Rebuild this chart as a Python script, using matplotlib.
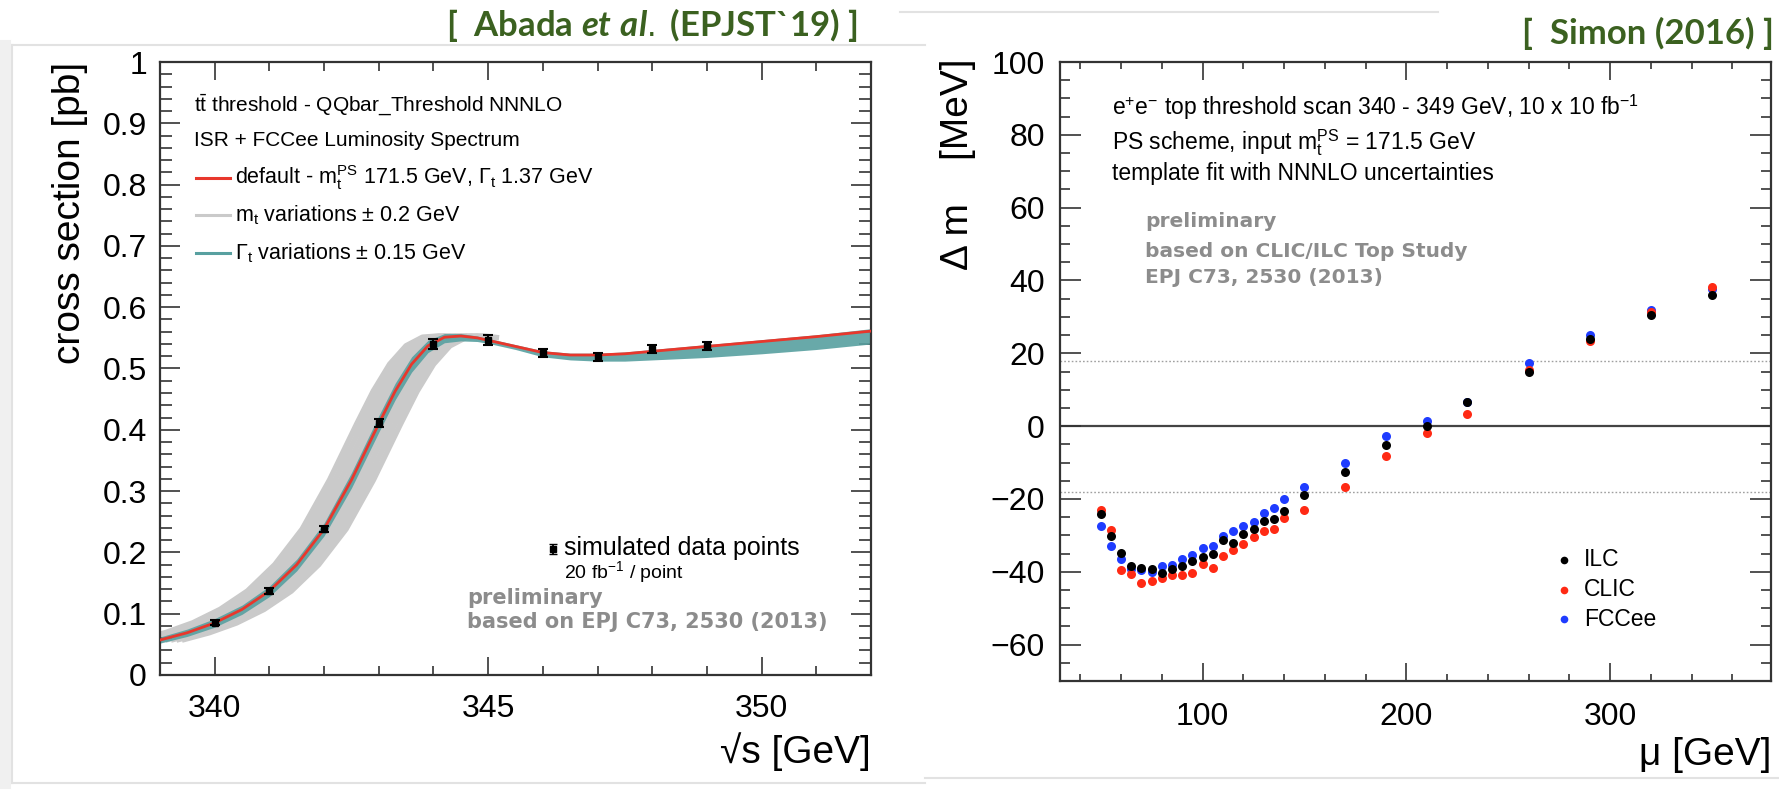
import matplotlib
matplotlib.use("Agg")
import matplotlib.pyplot as plt
from matplotlib.lines import Line2D
from matplotlib.ticker import MultipleLocator, FuncFormatter

W, H = 1779, 806
plt.rcParams["font.family"] = ["Liberation Sans", "DejaVu Sans"]
plt.rcParams["mathtext.fontset"] = "custom"
plt.rcParams["mathtext.rm"] = "Liberation Sans"
plt.rcParams["mathtext.it"] = "Lato:italic:bold"
plt.rcParams["mathtext.bf"] = "Liberation Sans:bold"

# ---- left panel: ttbar threshold scan ----
sqrt_s = [339.0, 339.5, 340.0, 340.5, 341.0, 341.5, 342.0, 342.5, 343.0, 343.3, 343.6,
          343.9, 344.2, 344.5, 344.8, 345.0, 345.5, 346.0, 346.5, 347.0, 347.5, 348.0,
          348.5, 349.0, 349.5, 350.0, 351.0, 352.0]
xsec = [0.057, 0.069, 0.085, 0.107, 0.137, 0.180, 0.238, 0.318, 0.410, 0.463, 0.507,
        0.537, 0.551, 0.553, 0.550, 0.546, 0.536, 0.526, 0.522, 0.522, 0.524, 0.528,
        0.532, 0.536, 0.540, 0.544, 0.552, 0.561]
gam_hi = [0.062, 0.075, 0.092, 0.114, 0.145, 0.189, 0.248, 0.330, 0.423, 0.476, 0.519,
          0.546, 0.557, 0.557, 0.553, 0.549, 0.539, 0.529, 0.525, 0.525, 0.527, 0.531,
          0.535, 0.539, 0.543, 0.547, 0.555, 0.565]
gam_lo = [0.052, 0.063, 0.078, 0.099, 0.128, 0.170, 0.227, 0.305, 0.396, 0.449, 0.494,
          0.526, 0.542, 0.545, 0.544, 0.541, 0.531, 0.519, 0.514, 0.512, 0.512, 0.514,
          0.516, 0.518, 0.521, 0.524, 0.531, 0.540]
mt_shift = [-0.4, -0.3, -0.2, -0.1, 0.0, 0.1, 0.2, 0.3, 0.4]
mt_upto = 15          # grey m_t band only shows up to the peak region
pts_x = [340, 341, 342, 343, 344, 345, 346, 347, 348, 349]
pts_y = [0.085, 0.137, 0.238, 0.411, 0.540, 0.546, 0.525, 0.519, 0.532, 0.537]
pts_e = [0.004, 0.005, 0.005, 0.007, 0.008, 0.008, 0.007, 0.007, 0.007, 0.007]

# ---- right panel: mass shift vs scale ----
mu = [50, 55, 60, 65, 70, 75, 80, 85, 90, 95, 100, 105, 110, 115, 120, 125, 130, 135,
      140, 150, 170, 190, 210, 230, 260, 290, 320, 350]
ilc = [-24.1, -30.3, -34.9, -38.3, -38.9, -39.2, -40.3, -39.2, -38.5, -37.1, -36.0, -35.0,
       -31.4, -32.0, -29.6, -28.3, -26.1, -25.4, -23.3, -18.8, -12.6, -5.3, 0.0, 6.6,
       14.8, 24.0, 30.4, 36.1]
clic = [-23.0, -28.6, -39.4, -40.5, -43.0, -42.4, -41.6, -41.0, -40.9, -40.3, -37.8, -38.9,
        -35.8, -34.1, -32.3, -30.5, -28.8, -28.2, -25.3, -23.1, -16.6, -8.3, -1.8, 3.4,
        15.5, 23.3, 31.3, 38.3]
fcc = [-27.3, -32.8, -36.4, -39.2, -39.6, -40.1, -38.3, -38.1, -36.6, -35.3, -33.4, -33.0,
       -30.2, -28.8, -27.5, -26.2, -23.9, -22.5, -19.9, -16.7, -10.2, -2.8, 1.4, 6.5,
       17.4, 24.9, 31.9, 37.7]
band = 18.0

RED, TEAL, GREY = "#e8372c", "#58a0a0", "#cacaca"
PREL = "#8c8c8c"
CITE = "#3b6120"

fig = plt.figure(figsize=(W / 100, H / 100), dpi=100)


def fx(x):
    return x / W


def fy(y):
    return 1 - y / H


def root_ticks(ax, xl, xmin, yl, ymin):
    for s in ax.spines.values():
        s.set_linewidth(1.6)
        s.set_color("#333333")
    ax.tick_params(which="both", direction="in", top=True, right=True, width=1.2,
                   color="#333333")
    ax.tick_params(axis="x", which="major", length=xl)
    ax.tick_params(axis="x", which="minor", length=xmin)
    ax.tick_params(axis="y", which="major", length=yl)
    ax.tick_params(axis="y", which="minor", length=ymin)


# ================= left =================
axl = fig.add_axes([fx(160), fy(675), (871 - 160) / W, (675 - 62) / H])
for d in mt_shift:
    axl.plot([v + d for v in sqrt_s[:mt_upto]], xsec[:mt_upto], color=GREY, lw=4,
             solid_capstyle="butt", zorder=1)
axl.fill_between(sqrt_s, gam_lo, gam_hi, color=TEAL, lw=0, alpha=0.9, zorder=2)
axl.plot(sqrt_s, xsec, color=RED, lw=2.0, zorder=3)
axl.errorbar(pts_x, pts_y, yerr=pts_e, fmt="s", color="black", ms=5, capsize=3.5,
             elinewidth=1.5, capthick=1.5, zorder=4)
axl.set_xlim(339, 352)
axl.set_ylim(0, 1)
axl.xaxis.set_major_locator(MultipleLocator(5))
axl.xaxis.set_minor_locator(MultipleLocator(1))
axl.yaxis.set_major_locator(MultipleLocator(0.1))
axl.yaxis.set_minor_locator(MultipleLocator(0.02))
axl.yaxis.set_major_formatter(FuncFormatter(lambda v, p: f"{v:.1f}".rstrip("0").rstrip(".") if v else "0"))
root_ticks(axl, 13, 6.5, 14.4, 8.6)
axl.tick_params(axis="x", labelsize=23, pad=14)
axl.tick_params(axis="y", labelsize=23, pad=9.4)

tl = axl.transAxes
axl.text(0.048, (675 - 105) / 613, r"t$\bar{\mathrm{t}}$ threshold - QQbar_Threshold NNNLO",
         transform=tl, fontsize=15, va="center")
axl.text(0.048, (675 - 141) / 613, "ISR + FCCee Luminosity Spectrum",
         transform=tl, fontsize=15, va="center")
leg_rows = [(178, RED, r"default - m$_\mathrm{t}^\mathrm{PS}$ 171.5 GeV, $\Gamma_\mathrm{t}$ 1.37 GeV"),
            (215, GREY, r"m$_\mathrm{t}$ variations ± 0.2 GeV"),
            (253, TEAL, r"$\Gamma_\mathrm{t}$ variations ± 0.15 GeV")]
for yy, c, s in leg_rows:
    ya = (675 - yy) / 613
    axl.plot([0.051, 0.098], [ya, ya], color=c, lw=2.2, transform=tl)
    axl.text(0.106, ya, s, transform=tl, fontsize=15.5, va="center")

axl.errorbar([0.553], [(675 - 549) / 613], yerr=[0.008], fmt="s", color="black", ms=4,
             capsize=3, elinewidth=1.3, transform=tl)
axl.text(0.568, (675 - 548) / 613, "simulated data points", transform=tl, fontsize=18,
         va="center")
axl.text(0.568, (675 - 572) / 613, r"20 fb$^{-1}$ / point", transform=tl, fontsize=14,
         va="center")
axl.text(0.432, (675 - 598) / 613, "preliminary", transform=tl, fontsize=15,
         color=PREL, fontweight="bold", family="DejaVu Sans", va="center")
axl.text(0.432, (675 - 622) / 613, "based on EPJ C73, 2530 (2013)", transform=tl,
         fontsize=15, color=PREL, fontweight="bold", family="DejaVu Sans", va="center")
axl.text(-0.127, 1.0, "cross section [pb]", transform=tl, rotation=90, fontsize=28,
         ha="center", va="top")
axl.text(1.0, (675 - 752) / 613, "√s [GeV]", transform=tl, fontsize=28, ha="right",
         va="center")

# ================= right =================
axr = fig.add_axes([fx(1060), fy(681), (1771 - 1060) / W, (681 - 62) / H])
axr.axhline(0, color="#444444", lw=1.6, zorder=1)
axr.axhline(band, color="#a0a0a0", lw=1.0, ls=(0, (1.2, 1.5)), zorder=1)
axr.axhline(-band, color="#a0a0a0", lw=1.0, ls=(0, (1.2, 1.5)), zorder=1)
axr.plot(mu, fcc, "o", color="#1f3cff", ms=6.5, mew=0, zorder=3)
axr.plot(mu, clic, "o", color="#ff2a14", ms=6.5, mew=0, zorder=4)
axr.plot(mu, ilc, "o", color="black", ms=6.5, mew=0, zorder=5)
axr.set_xlim(30, 379)
axr.set_ylim(-70, 100)
axr.xaxis.set_major_locator(MultipleLocator(100))
axr.xaxis.set_minor_locator(MultipleLocator(20))
axr.yaxis.set_major_locator(MultipleLocator(20))
axr.yaxis.set_minor_locator(MultipleLocator(5))
root_ticks(axr, 13, 5, 15, 7)
axr.tick_params(axis="x", labelsize=23, pad=15)
axr.tick_params(axis="y", labelsize=23, pad=11)

tr = axr.transAxes
for yy, s in [(115, r"e$^{+}$e$^{-}$ top threshold scan 340 - 349 GeV, 10 x 10 fb$^{-1}$"),
              (150, r"PS scheme, input m$_\mathrm{t}^\mathrm{PS}$ = 171.5 GeV"),
              (180, "template fit with NNNLO uncertainties")]:
    axr.text(0.073, (681 - yy) / 619, s, transform=tr, fontsize=16.5, va="baseline")
for yy, s in [(227, "preliminary"), (257, "based on CLIC/ILC Top Study"),
              (283, "EPJ C73, 2530 (2013)")]:
    axr.text(0.120, (681 - yy) / 619, s, transform=tr, fontsize=14.5, color=PREL,
             fontweight="bold", family="DejaVu Sans", va="baseline")
for yy, c, s in [(560, "black", "ILC"), (590, "#ff2a14", "CLIC"), (619, "#1f3cff", "FCCee")]:
    ya = (681 - yy) / 619
    axr.plot([0.709], [ya], "o", color=c, ms=5.5, mew=0, transform=tr)
    axr.text(0.737, ya, s, transform=tr, fontsize=16.5, va="center")
axr.text(-0.143, 1.006, "Δ m    [MeV]", transform=tr, rotation=90, fontsize=28,
         ha="center", va="top")
axr.text(1.0, (681 - 755) / 619, "μ [GeV]", transform=tr, fontsize=28, ha="right",
         va="center")

# ---- citations ----
cite_kw = dict(family="Lato", fontweight="bold", fontsize=25, color=CITE,
               ha="right", va="center")
fig.text(fx(858), fy(25), r"[  Abada $et\ al.$ (EPJST`19) ]", **cite_kw)
fig.text(fx(1774), fy(33), "[  Simon (2016) ]", **cite_kw)

# ---- faint screenshot frames ----
for (x0, y0, x1, y1) in [(12, 45, 925, 45), (12, 45, 12, 783), (12, 783, 925, 783),
                         (900, 12, 1438, 12), (925, 778, 1779, 778)]:
    fig.add_artist(Line2D([fx(x0), fx(x1)], [fy(y0), fy(y1)], color="#e2e2e2", lw=1.5))
fig.add_artist(Line2D([fx(5), fx(5)], [fy(45), fy(783)], color="#f0f0f0", lw=8))

fig.savefig("out.png", dpi=100)
